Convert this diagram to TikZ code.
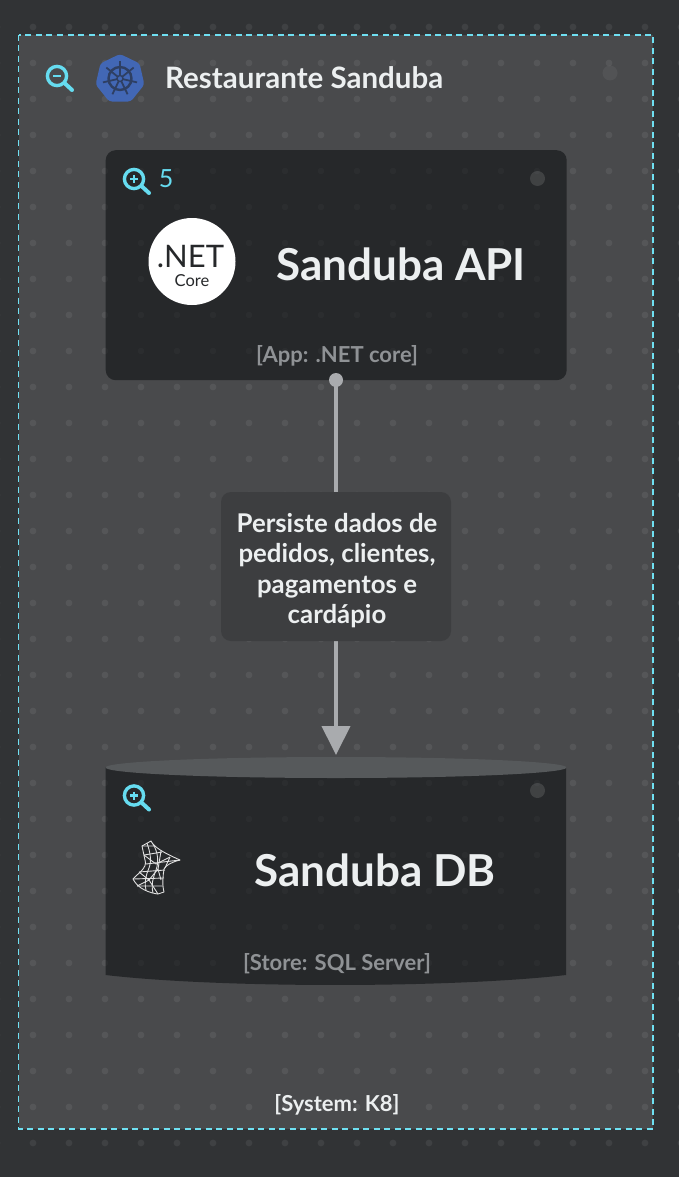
\documentclass[tikz,border=0pt]{standalone}
\usepackage{fontspec}
\setmainfont{Lato}
\usepackage{tikz}
\usetikzlibrary{shapes.geometric,positioning,arrows.meta}
\definecolor{backdrop}{HTML}{313335}
\definecolor{frame}{HTML}{494A4C}
\definecolor{boxdark}{HTML}{26282A}
\definecolor{dbtop}{HTML}{56595B}
\definecolor{tagbox}{HTML}{3D3E40}
\definecolor{wire}{HTML}{A9ABAE}
\definecolor{cyanline}{HTML}{6FE0F2}
\definecolor{zoomcol}{HTML}{66DCF0}
\definecolor{softtext}{HTML}{8F9295}
\definecolor{lighttext}{HTML}{ECEFF0}
\definecolor{kube}{HTML}{4267B5}
\definecolor{kubeline}{HTML}{2E3F63}
\tikzset{
  title/.style={text=lighttext,font=\bfseries\fontsize{#1}{#1}\selectfont,inner sep=0pt},
  tag/.style={text=softtext,font=\bfseries\fontsize{22}{22}\selectfont,inner sep=0pt},
  box/.style={fill=boxdark,rounded corners=10pt,minimum width=461pt,minimum height=230pt,inner sep=0pt},
  pin/.style={circle,fill=#1,inner sep=0pt,minimum size=14pt},
  pics/lens/.style={code={
    \draw[zoomcol,line width=3.4pt] (0,0) circle (9.6pt);
    \draw[zoomcol,line width=4pt,line cap=round] (8,7.5) -- (15,14);
    \draw[zoomcol,line width=2.4pt] (-4,0) -- (4,0);
    \ifx#1p\draw[zoomcol,line width=2.4pt] (0,-4) -- (0,4);\fi
  }}
}
\begin{document}
\begin{tikzpicture}[x=1pt,y=-1pt]
  \useasboundingbox[fill=backdrop] (0,0) rectangle (679,1177);
  \fill[frame] (18.5,35) rectangle (653,1129);
  % grid of dots
  \foreach \i in {0,...,19}
    \foreach \j in {0,...,31}
      \fill[white,opacity=.07] (-3+36*\i,27+36*\j) circle (3.4pt);
  \draw[cyanline,line width=1.2pt,dash pattern=on 6pt off 4.5pt] (18.5,35) rectangle (653,1129);

  % top row
  \pic at (57,76) {lens=m};
  \node[regular polygon,regular polygon sides=7,fill=kube,minimum size=50pt,inner sep=0pt,rounded corners=3pt] (n_kube) at (120,79) {};
  \draw[kubeline,line width=2.4pt] (120,78.5) circle (11.5pt);
  \draw[kubeline,line width=1.4pt] (120,78.5) circle (3pt);
  \foreach \a in {90,141.43,...,450}
    \draw[kubeline,line width=1.8pt] (120,78.5) ++(\a:3pt) -- ++(\a:14.5pt);
  \node[title=29.5,anchor=west] (n_title) at (165,78) {Restaurante Sanduba};
  \node[pin=white,opacity=.05,minimum size=15pt] (n_dot_top) at (610,73) {};

  % api box
  \node[box,anchor=north west] (n_api) at (105.5,150) {};
  \begin{scope}
    \clip (105.5,160) rectangle (566,370);
    \foreach \i in {3,...,15}
      \foreach \j in {3,...,9}
        \fill[white,opacity=.025] (-3+36*\i,27+36*\j) circle (3.4pt);
  \end{scope}
  \pic at (134,179) {lens=p};
  \node[text=zoomcol,font=\fontsize{25}{25}\selectfont,inner sep=0pt] (n_count) at (166,179) {5};
  \node[pin=white,opacity=.12,minimum size=15pt] (n_dot_api) at (537.5,178.5) {};
  \node[circle,fill=white,minimum size=87pt,inner sep=0pt] (n_net) at (192,261.5) {};
  \node[text=boxdark,font=\fontsize{31}{31}\selectfont,inner sep=0pt] (n_net_top) at (190.5,256.5) {.NET};
  \node[text=boxdark,font=\fontsize{16.5}{16.5}\selectfont,inner sep=0pt] (n_net_sub) at (192,281) {Core};
  \node[title=44] (n_api_name) at (401,264) {Sanduba API};
  \node[tag] (n_api_tag) at (337,356) {[App: .NET core]};

  % db drum
  \node[minimum width=461pt,minimum height=228pt,inner sep=0pt,outer sep=0pt] (n_db) at (336,871) {};
  \fill[boxdark] (105.5,767) -- (566,767) -- (566,975) .. controls (450,988.3) and (220,988.3) .. (105.5,975) -- cycle;
  \begin{scope}
    \clip (105.5,778) rectangle (566,975);
    \foreach \i in {3,...,15}
      \foreach \j in {21,...,26}
        \fill[white,opacity=.025] (-3+36*\i,27+36*\j) circle (3.4pt);
  \end{scope}
  \fill[dbtop] (336,767.5) ellipse (230.5pt and 10.5pt);
  \pic at (134,795.5) {lens=p};
  \node[pin=white,opacity=.12,minimum size=15pt] (n_dot_db) at (537.5,790.5) {};
  \node[title=44] (n_db_name) at (375,870) {Sanduba DB};
  \node[tag] (n_db_tag) at (337,964) {[Store: SQL Server]};

  % sql server mark
  \begin{scope}[white!88!black,line width=.9pt,line join=round]
    \draw (142,846) -- (151,841) .. controls (154,847) and (162,852) .. (180,860)
      .. controls (172,862) and (166,865) .. (164,869) .. controls (163,876) and (162,884) .. (164,892)
      -- (158,894) .. controls (150,893) and (138,889) .. (133,879)
      .. controls (137,874) and (148,868) .. (145,860) -- cycle;
    \draw (142,846) -- (155,846) (144,855) -- (162,852) (146,864) -- (180,860)
      (139,872) -- (165,870) (133,879) -- (164,878) (137,886) -- (163,886);
    \draw (147,843) .. controls (150,852) and (152,860) .. (149,868) .. controls (146,875) and (144,882) .. (146,890);
    \draw (153,844) .. controls (158,852) and (159,862) .. (156,870) .. controls (153,878) and (151,884) .. (153,893);
    \draw (161,851) -- (158,869) -- (161,880) (170,857) -- (165,868);
    \draw (144,855) -- (156,864) -- (170,857) (139,872) -- (149,880) -- (158,869) (149,880) -- (137,886) (149,880) -- (158,894);
  \end{scope}

  % connector with its label
  \node[pin=wire] (n_from) at (336,380) {};
  \path[draw=wire,line width=4pt,-{Triangle[length=29pt,width=28pt,fill=wire]}] (n_from.center) -- ([yshift=2pt]n_db.north);
  \node[fill=tagbox,rounded corners=10pt,minimum width=230pt,minimum height=149pt,inner sep=0pt] (n_link) at (336,566.5) {};
  \node[align=center,text=lighttext,font=\bfseries\fontsize{25.8}{30.4}\selectfont,inner sep=0pt] (n_link_text) at (337,570.5)
    {Persiste dados de\\pedidos, clientes,\\pagamentos e\\cardápio};

  \node[text=lighttext,font=\bfseries\fontsize{22}{22}\selectfont,inner sep=0pt] (n_system) at (337,1104.5) {[System: K8]};
\end{tikzpicture}
\end{document}
